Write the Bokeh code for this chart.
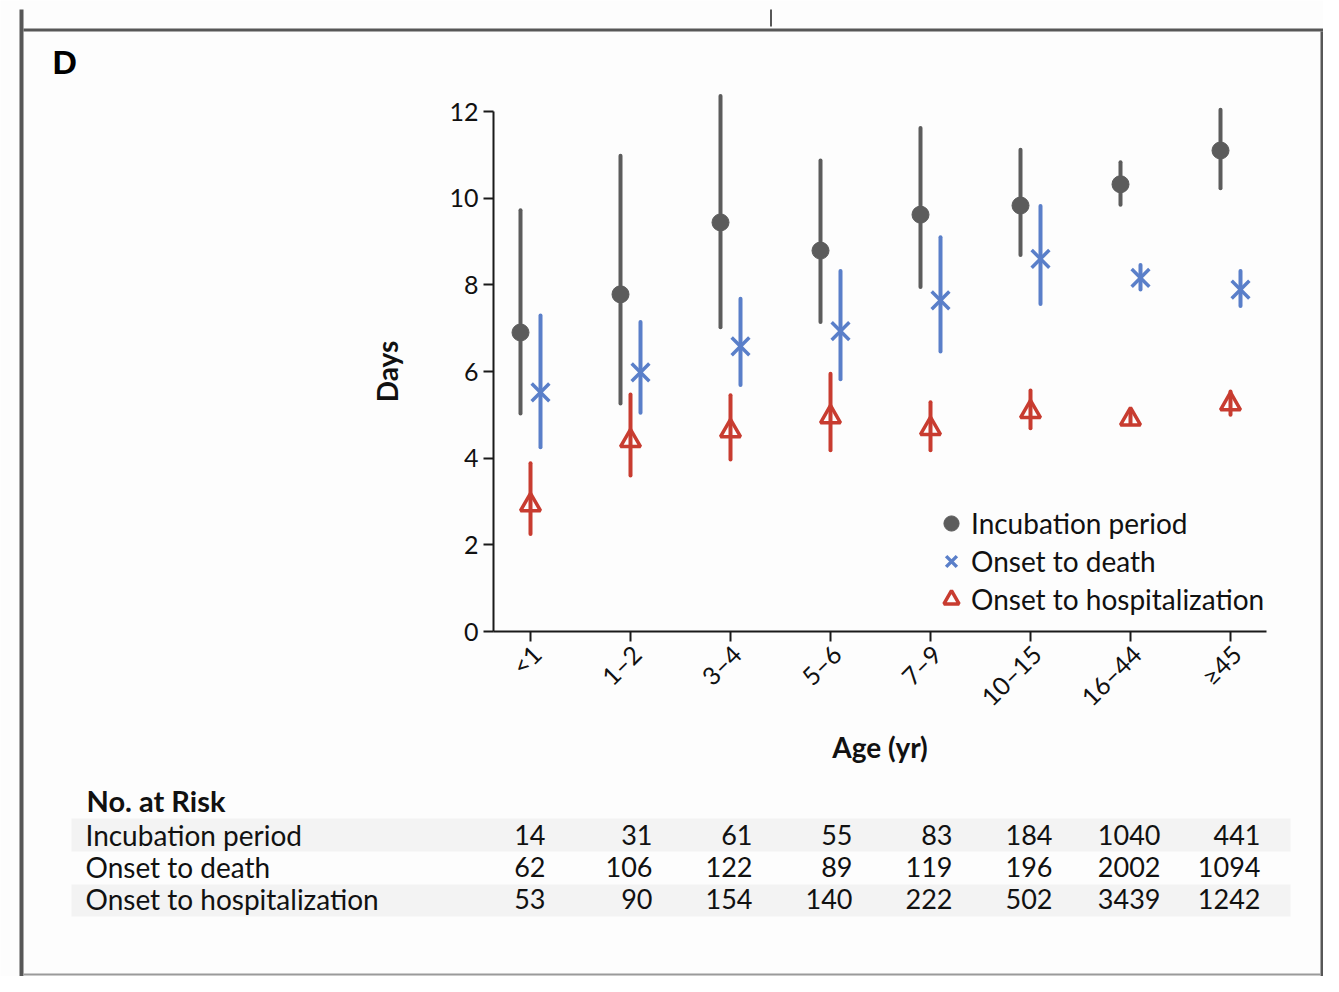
import math
from bokeh.plotting import figure
from bokeh.models import (Range1d, FixedTicker, Legend, LegendItem, ColumnDataSource,
                          LinearAxis, CustomJSTickFormatter)
from bokeh.core.properties import value
from bokeh.embed import file_html
from bokeh.resources import INLINE

categories = ["<1", "1–2", "3–4", "5–6", "7–9", "10–15", "16–44", "≥45"]
incub_mid = [6.90, 7.78, 9.44, 8.79, 9.62, 9.83, 10.32, 11.10]
incub_lo = [5.03, 5.26, 7.02, 7.14, 7.95, 8.69, 9.85, 10.23]
incub_hi = [9.72, 10.98, 12.36, 10.87, 11.62, 11.12, 10.83, 12.04]
death_mid = [5.52, 5.98, 6.58, 6.93, 7.64, 8.60, 8.16, 7.89]
death_lo = [4.25, 5.05, 5.69, 5.82, 6.46, 7.56, 7.89, 7.51]
death_hi = [7.29, 7.14, 7.68, 8.32, 9.10, 9.82, 8.46, 8.32]
hosp_mid = [2.92, 4.40, 4.63, 4.95, 4.68, 5.07, 4.90, 5.25]
hosp_lo = [2.25, 3.60, 3.97, 4.18, 4.18, 4.69, 4.80, 5.00]
hosp_hi = [3.88, 5.47, 5.45, 5.95, 5.29, 5.56, 5.05, 5.54]

series_names = ["Incubation period", "Onset to death", "Onset to hospitalization"]
n_incub = [14, 31, 61, 55, 83, 184, 1040, 441]
n_death = [62, 106, 122, 89, 119, 196, 2002, 1094]
n_hosp = [53, 90, 154, 140, 222, 502, 3439, 1242]
y_ticks = [0, 2, 4, 6, 8, 10, 12]

GRAY = "#5c5c5c"
BLUE = "#5a7fc9"
RED = "#c83c30"
FONT = "Lato"
BG = "#fdfdfd"
TXT = "#111111"

W, H = 1323, 976
# pixel layout of the chart area -> data units
X0, XS = 530.0, 100.0          # pixel x of first category, px per category
Y0, YS = 631.0, 520.0 / 12.0    # pixel y of 0 days, px per day
def dx(px): return (px - X0) / XS
def dy(py): return (Y0 - py) / YS

idx = list(range(len(categories)))
offsets = [-0.1, 0.1, 0.0]

p = figure(width=W, height=H, x_range=Range1d(dx(0), dx(W)), y_range=Range1d(dy(H), dy(0)),
           output_backend="svg", toolbar_location=None, title=None,
           min_border_left=0, min_border_right=0, min_border_top=0, min_border_bottom=0)
p.background_fill_color = BG
p.border_fill_color = BG
p.outline_line_color = None
p.grid.visible = False

# panel frame lines and table shading (decoration, pixel layout)
frame_l = [19, 23, 1320, 769.5, 23]
frame_r = [23, 1323, 1323, 771.5, 1320]
frame_t = [9, 28, 31, 9, 973]
frame_b = [976, 31, 976, 26, 975]
p.quad(left=[dx(v) for v in frame_l], right=[dx(v) for v in frame_r],
       top=[dy(v) for v in frame_t], bottom=[dy(v) for v in frame_b],
       fill_color=["#575757", "#575757", "#575757", "#575757", "#9a9a9a"], line_color=None)
p.quad(left=[dx(71)] * 2, right=[dx(1290)] * 2, top=[dy(818), dy(884)], bottom=[dy(851), dy(916)],
       fill_color="#f3f3f3", line_color=None)

scatters = []
for (mid, lo, hi, color, off, marker) in [
    (incub_mid, incub_lo, incub_hi, GRAY, offsets[0], "circle"),
    (death_mid, death_lo, death_hi, BLUE, offsets[1], "x"),
    (hosp_mid, hosp_lo, hosp_hi, RED, offsets[2], "triangle"),
]:
    xs = [i + off for i in idx]
    src = ColumnDataSource(dict(x=xs, mid=mid, lo=lo, hi=hi))
    p.segment(x0="x", y0="lo", x1="x", y1="hi", source=src, line_color=color, line_width=4, line_cap="round")
    if marker == "circle":
        r = p.scatter("x", "mid", source=src, marker="circle", size=17, fill_color=color, line_color=color)
    elif marker == "x":
        r = p.scatter("x", "mid", source=src, marker="x", size=25, line_color=color, line_width=3.5)
    else:
        r = p.scatter("x", "mid", source=src, marker="triangle", size=20, fill_color=None,
                      line_color=color, line_width=3.5)
    scatters.append(r)

def style_axis(ax):
    ax.axis_line_width = 2
    ax.axis_line_color = "#1a1a1a"
    ax.major_tick_line_width = 2
    ax.major_tick_line_color = "#1a1a1a"
    ax.major_tick_out = 10
    ax.major_tick_in = 0
    ax.minor_tick_out = 0
    ax.minor_tick_in = 0
    ax.major_label_text_font = FONT
    ax.major_label_text_font_size = "25px"
    ax.major_label_text_color = TXT
    ax.axis_label_text_font = FONT
    ax.axis_label_text_font_style = "bold"
    ax.axis_label_text_font_size = "28px"
    ax.axis_label_text_color = TXT

x_lo, x_hi = dx(493), dx(1266)

yax = p.yaxis[0]
style_axis(yax)
yax.fixed_location = x_lo
yax.bounds = (0, 12)
yax.ticker = FixedTicker(ticks=y_ticks)
yax.axis_label = "Days"
yax.axis_label_standoff = 42
yax.major_label_standoff = 5

xax = p.xaxis[0]
style_axis(xax)
xax.fixed_location = 0
xax.bounds = (x_lo, x_hi)
xax.ticker = FixedTicker(ticks=idx)
xax.major_label_text_color = None

lab_shift = 0.06
xlab = LinearAxis(fixed_location=0, ticker=FixedTicker(ticks=[i + lab_shift for i in idx]),
                  formatter=CustomJSTickFormatter(args=dict(labels=categories, s=lab_shift),
                                                  code="return labels[Math.round(tick - s)];"))
style_axis(xlab)
xlab.bounds = (x_lo, x_hi)
xlab.axis_line_color = None
xlab.major_tick_line_color = None
xlab.major_label_orientation = math.pi / 4
xlab.major_label_standoff = 8
xlab.axis_label = "Age (yr)"
xlab.axis_label_standoff = 5
p.add_layout(xlab, "below")

legend = Legend(items=[LegendItem(label=nm, renderers=[r]) for nm, r in zip(series_names, scatters)],
                location=(932, H - 618), padding=0, margin=0, spacing=0,
                glyph_width=38, glyph_height=38, label_standoff=1,
                border_line_color=None, background_fill_alpha=0,
                label_text_font=FONT, label_text_font_size="28px", label_text_color=TXT)
p.add_layout(legend, "center")

# panel letter
p.text(x=[dx(52)], y=[dy(61)], text=["D"], text_font=value("Liberation Sans"), text_font_style="bold",
       text_font_size="34px", text_color="#000000", text_baseline="middle", text_align="left")

# No. at risk table
p.text(x=[dx(86)], y=[dy(800)], text=["No. at Risk"], text_font=value(FONT), text_font_style="bold",
       text_font_size="29px", text_color=TXT, text_baseline="middle", text_align="left")
col_right = [545, 652, 752, 852, 952, 1052, 1160, 1260]
row_y = [834, 866, 898]
p.text(x=[dx(85)] * 3, y=[dy(v) for v in row_y], text=series_names, text_font=value(FONT),
       text_font_size="28px", text_color=TXT, text_baseline="middle", text_align="left")
for counts, yy in zip([n_incub, n_death, n_hosp], row_y):
    p.text(x=[dx(v) for v in col_right], y=[dy(yy)] * len(counts), text=[str(c) for c in counts],
           text_font=value(FONT), text_font_size="27px", text_color=TXT,
           text_baseline="middle", text_align="right")

open("out.html", "w").write(file_html(p, INLINE))
